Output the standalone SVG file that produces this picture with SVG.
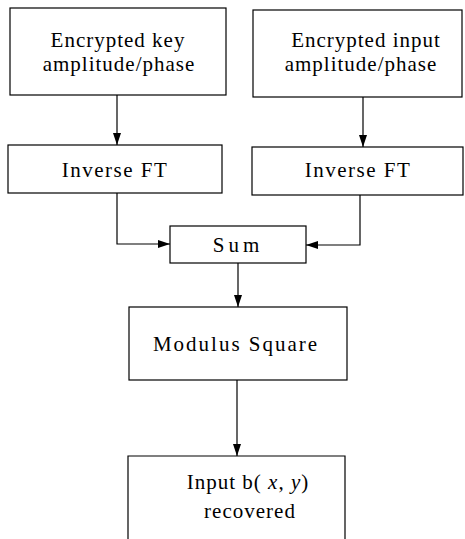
<svg xmlns="http://www.w3.org/2000/svg" width="465" height="539" viewBox="0 0 465 539">
<defs>
<marker id="ah" viewBox="0 0 12 10" refX="12" refY="5" markerWidth="12" markerHeight="10" markerUnits="userSpaceOnUse" orient="auto">
<path d="M0,1 L12,5 L0,9 Z" fill="#000"/>
</marker>
</defs>
<style>
.box{fill:#fff;stroke:#000;stroke-width:1.2}
.t{font-family:"Liberation Serif","Times New Roman",serif;font-size:21px;fill:#000;text-anchor:middle;letter-spacing:1px}
.c{fill:none;stroke:#000;stroke-width:1.2}
</style>
<rect width="465" height="539" fill="#fff"/>
<g id="connectors">
<path class="c" d="M117,95 V145" marker-end="url(#ah)"/>
<path class="c" d="M363,97 V147" marker-end="url(#ah)"/>
<path class="c" d="M117,193 V244 H170" marker-end="url(#ah)"/>
<path class="c" d="M360,195 V245 H306" marker-end="url(#ah)"/>
<path class="c" d="M238,263 V307" marker-end="url(#ah)"/>
<path class="c" d="M237,380 V456" marker-end="url(#ah)"/>
</g>
<g id="key">
<rect class="box" x="10" y="8" width="216" height="87"/>
<text class="t" x="118" y="47">Encrypted key</text>
<text class="t" x="119" y="71">amplitude/phase</text>
</g>
<g id="input">
<rect class="box" x="253" y="10" width="209" height="87"/>
<text class="t" x="366" y="47">Encrypted input</text>
<text class="t" x="361" y="71">amplitude/phase</text>
</g>
<g id="ift1">
<rect class="box" x="8" y="145" width="214" height="48"/>
<text class="t" x="115" y="177" style="letter-spacing:1.5px">Inverse FT</text>
</g>
<g id="ift2">
<rect class="box" x="252" y="147" width="211" height="48"/>
<text class="t" x="358" y="177" style="letter-spacing:1.5px">Inverse FT</text>
</g>
<g id="sum">
<rect class="box" x="170" y="226" width="136" height="37"/>
<text class="t" x="238" y="252" style="letter-spacing:4px">Sum</text>
</g>
<g id="modulus">
<rect class="box" x="129" y="307" width="218" height="73"/>
<text class="t" x="236" y="351" style="letter-spacing:2px">Modulus Square</text>
</g>
<g id="recovered">
<path class="box" d="M128,540 V456 H345 V540"/>
<text class="t" x="248" y="489">Input b( <tspan font-style="italic">x</tspan>, <tspan font-style="italic">y</tspan>)</text>
<text class="t" x="250" y="518">recovered</text>
</g>
</svg>
